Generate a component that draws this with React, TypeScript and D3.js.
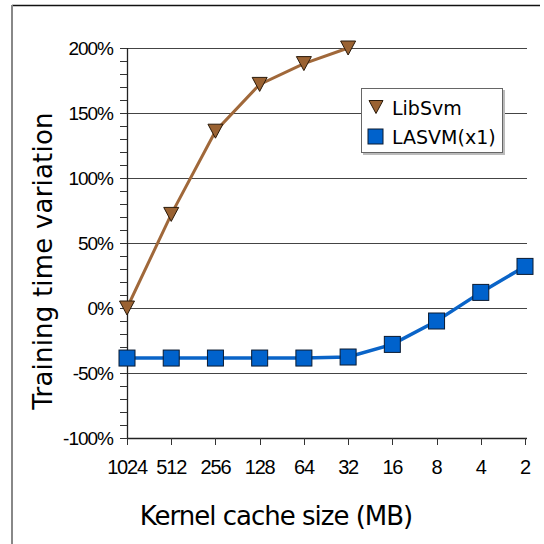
import React from "react";
import * as d3 from "d3";

const categories = ["1024", "512", "256", "128", "64", "32", "16", "8", "4", "2"];
const libsvm = [0, 72, 136, 172, 188, 200];
const lasvm = [-38.5, -38.5, -38.5, -38.5, -38.5, -37.7, -28, -10, 12, 32];
const yTicks = [-100, -50, 0, 50, 100, 150, 200];
const minorTicks = d3.range(-100, 201, 10);

export default function App() {
  const W = 544, H = 544;
  const x = d3.scalePoint<string>().domain(categories).range([127, 525]);
  const y = d3.scaleLinear().domain([-100, 200]).range([438, 48]);
  const cy = (v: number) => Math.round(y(v)) + 0.5;

  const libPts = libsvm.map((v, i) => [x(categories[i])!, y(v)] as [number, number]);
  const lasPts = lasvm.map((v, i) => [x(categories[i])!, y(v)] as [number, number]);
  const line = d3.line();

  const tri = (cx: number, cyy: number, hw = 7.5, h = 14) =>
    `M${cx - hw},${cyy - h / 2} L${cx + hw},${cyy - h / 2} L${cx},${cyy + h / 2} Z`;

  const tickFont = "Liberation Sans, Arial, sans-serif";

  return (
    <svg width={W} height={H} style={{ position: "absolute", left: 0, top: 0 }}>
      <rect x={0} y={0} width={W} height={H} fill="#fff" />
      {/* frame */}
      <line x1={12} y1={5.5} x2={540} y2={5.5} stroke="#111" strokeWidth={1.5} />
      <line x1={12} y1={5} x2={12} y2={544} stroke="#888" strokeWidth={2} />

      {/* gridlines */}
      {yTicks.slice(1).map((t) => (
        <line key={t} x1={120} x2={527} y1={cy(t)} y2={cy(t)} stroke="#444" strokeWidth={1.2} />
      ))}
      {/* y axis */}
      <line x1={127.5} x2={127.5} y1={48} y2={439} stroke="#222" strokeWidth={1.3} />
      {minorTicks.map((t) => (
        <line key={t} x1={120} x2={127} y1={cy(t)} y2={cy(t)} stroke="#333" strokeWidth={1} />
      ))}
      {yTicks.map((t) => (
        <text key={t} x={113} y={y(t)} dy="0.36em" textAnchor="end"
          fontFamily={tickFont} fontSize={19} letterSpacing={-1} fill="#000">
          {t}%
        </text>
      ))}
      {/* x axis */}
      <line x1={127} x2={527} y1={438.5} y2={438.5} stroke="#222" strokeWidth={1.3} />
      {categories.map((c) => (
        <g key={c}>
          <line x1={Math.round(x(c)!) + 0.5} x2={Math.round(x(c)!) + 0.5} y1={438} y2={445} stroke="#333" strokeWidth={1} />
          <text x={x(c)!} y={474} textAnchor="middle"
            fontFamily={tickFont} fontSize={20} letterSpacing={-1.2} fill="#000">
            {c}
          </text>
        </g>
      ))}

      {/* series lines */}
      <path d={line(libPts)!} fill="none" stroke="#a0683a" strokeWidth={3} />
      <path d={line(lasPts)!} fill="none" stroke="#0a64c8" strokeWidth={3.5} />
      {libPts.map(([px, py], i) => (
        <path key={i} d={tri(px, py)} fill="#9a6232" stroke="#2a1a0a" strokeWidth={1} />
      ))}
      {lasPts.map(([px, py], i) => (
        <rect key={i} x={px - 8} y={py - 8} width={16} height={16} fill="#0062cc" stroke="#0a1a30" strokeWidth={1} />
      ))}

      {/* legend */}
      <rect x={363} y={90} width={142} height={65} fill="#bbb" />
      <rect x={361.5} y={88.5} width={141} height={64} fill="#fff" stroke="#666" strokeWidth={1} />
      <path d={tri(376, 107, 7, 13)} fill="#9a6232" stroke="#2a1a0a" strokeWidth={1} />
      <text x={392} y={115} fontFamily="DejaVu Sans, sans-serif" fontSize={19} fill="#000">LibSvm</text>
      <rect x={368} y={129} width={15} height={15} fill="#0062cc" stroke="#0a1a30" strokeWidth={1} />
      <text x={392} y={144} fontFamily="DejaVu Sans, sans-serif" fontSize={19} fill="#000">LASVM(x1)</text>

      {/* axis titles */}
      <text x={276} y={525} textAnchor="middle" fontFamily="DejaVu Sans, sans-serif" fontSize={26} letterSpacing={-1} fill="#000">
        Kernel cache size (MB)
      </text>
      <text transform="translate(52,261) rotate(-90)" textAnchor="middle"
        fontFamily="DejaVu Sans, sans-serif" fontSize={26} letterSpacing={0.2} fill="#000">
        Training time variation
      </text>
    </svg>
  );
}
